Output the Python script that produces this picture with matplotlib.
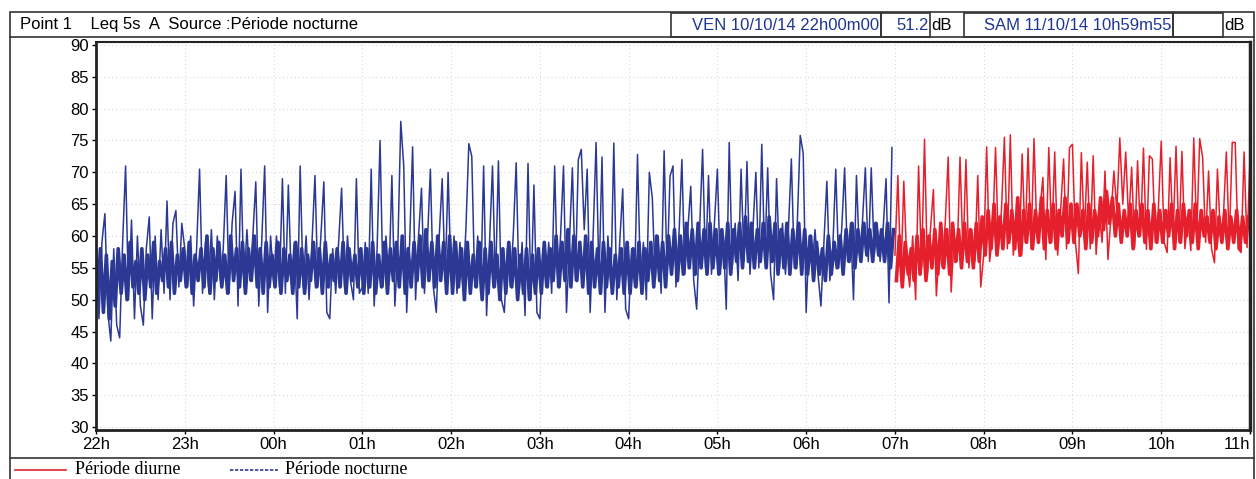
import matplotlib.pyplot as plt
import numpy as np
from matplotlib.lines import Line2D
from matplotlib.patches import Rectangle

W, H = 1256, 479

HOUR_LABELS = ["22h", "23h", "00h", "01h", "02h", "03h", "04h",
               "05h", "06h", "07h", "08h", "09h", "10h", "11h"]
STEP_MIN = 2  # each list holds one value every 2 minutes

# Leq 5s A, dB - peaks / dips of the trace (even minutes), night period 22h -> 07h
night_22h = [60, 47, 59, 63.5, 48, 43.5, 58, 46, 44, 59, 71, 50, 62.5, 47, 60,
             49, 46, 58, 63, 47, 60, 50, 61, 51, 65.5, 50, 62, 64, 52, 62]
night_23h = [58, 52, 60, 49, 58, 70.5, 51, 59, 52, 61, 50, 60, 53, 58, 69.5,
             51, 62, 67, 49, 70.5, 52, 61, 53, 60, 68.5, 49, 59, 71, 48, 60]
night_00h = [53, 60, 52, 69, 51, 68, 53, 59, 47, 71, 52, 60, 50, 59, 69.5,
             52, 60, 68.5, 48, 47, 58, 51, 59, 67.5, 52, 60, 53, 50, 69, 51]
night_01h = [52, 59, 51, 70.5, 49, 58, 75, 52, 60, 53, 69.5, 49, 58, 78, 71,
             48, 59, 74, 50, 60, 67.5, 51, 59, 70.5, 52, 48, 60, 69, 53, 70]
night_02h = [53, 60, 51, 59, 52, 61, 74.5, 72.5, 52, 60, 51, 71, 47.5, 59, 71,
             52, 71.8, 50, 48, 58, 52, 60, 71.5, 51, 59, 47.5, 71.4, 50, 68, 48]
night_03h = [47, 58, 52, 59, 51, 71, 52, 60, 71, 48, 59, 70.7, 53, 72, 73.6,
             61, 70.5, 48, 60, 74.7, 53, 72.4, 48, 60, 52, 74.6, 50, 59, 67.4, 48.5]
night_04h = [47, 58, 52, 72.8, 53, 59, 50, 70, 66, 53, 60, 51, 73.4, 54, 69.4,
             71, 52, 60, 72, 54, 61, 67.8, 53, 48.5, 61, 73.6, 55, 69.5, 54, 62]
night_05h = [70.5, 54, 60, 48.5, 74.7, 55, 62, 53, 70.5, 56, 71.7, 54, 61, 70, 55,
             74.4, 56, 70.7, 54, 50, 69, 55, 62, 54, 61, 72.1, 55, 62, 75.8, 73]
night_06h = [48, 60, 55, 61, 54, 49, 59, 68.6, 53, 58, 70.5, 55, 61, 70.7, 56,
             62, 50, 69.5, 57, 62, 70.7, 56, 70.7, 57, 62, 56, 61, 69, 49.5, 73.9]

# day period 07h -> 11h
day_07h = [57, 69.5, 53, 68.6, 56, 52, 60, 50, 71, 55, 75.2, 54, 61, 67.3, 50.6,
           58, 55, 62, 72.4, 51.2, 60, 56, 72.4, 57, 72, 55, 61, 56, 69.5, 52]
day_08h = [57, 74, 56, 60, 73.9, 58, 64, 75.5, 58, 75.9, 57, 62, 56.8, 72.9, 59,
           73.8, 58, 75.3, 60, 64, 69.2, 56.3, 73.9, 59, 73.2, 57, 64, 72.1, 58, 73.9]
day_09h = [74.4, 59, 54.1, 73.1, 60, 71.6, 58, 72.6, 57.1, 64, 59, 70.2, 56.3, 63, 70.2,
           64, 75.4, 65, 73.2, 62, 70.8, 58.2, 71.8, 60, 73.8, 57.9, 72.6, 72.1, 59, 64]
day_10h = [74.9, 59, 57.4, 72.3, 60, 74.1, 59, 73.3, 58, 63, 57.7, 75.4, 60, 75.3, 72.3,
           59, 70.2, 58, 55.8, 70.5, 60, 63, 73.2, 59, 74.7, 74.7, 58, 57.4, 73.2, 58.2,
           72.3]

# dense body of the trace (odd minutes)
body_22h = [50, 58, 48, 57, 47, 56, 49, 58, 51, 57, 50, 59, 52, 56, 51,
            58, 50, 57, 52, 59, 51, 56, 53, 58, 52, 59, 51, 57, 53, 58]
body_23h = [52, 59, 51, 57, 53, 58, 52, 60, 51, 58, 53, 59, 52, 57, 51,
            60, 53, 58, 52, 59, 51, 58, 53, 60, 52, 58, 51, 59, 52, 57]
body_00h = [52, 59, 51, 58, 53, 57, 51, 59, 52, 58, 51, 57, 53, 59, 52,
            58, 51, 59, 52, 57, 53, 58, 52, 59, 51, 58, 53, 57, 52, 58]
body_01h = [51, 58, 52, 59, 51, 57, 52, 59, 51, 58, 53, 59, 52, 60, 51,
            58, 52, 59, 53, 60, 52, 61, 53, 59, 52, 60, 53, 59, 51, 60]
body_02h = [51, 59, 52, 58, 50, 59, 51, 57, 52, 59, 50, 58, 51, 59, 52,
            57, 50, 58, 51, 59, 52, 58, 50, 57, 51, 58, 50, 57, 51, 58]
body_03h = [51, 59, 52, 58, 53, 60, 52, 59, 53, 61, 52, 60, 53, 59, 52,
            60, 51, 59, 52, 58, 51, 59, 52, 58, 51, 57, 52, 58, 51, 59]
body_04h = [51, 58, 52, 59, 51, 58, 53, 59, 52, 60, 53, 59, 52, 60, 54,
            61, 53, 60, 54, 62, 55, 61, 54, 62, 55, 61, 54, 62, 55, 61]
body_05h = [54, 61, 55, 62, 54, 61, 56, 62, 55, 63, 56, 62, 55, 61, 56,
            62, 55, 63, 56, 62, 54, 61, 55, 62, 54, 61, 55, 62, 54, 61]
body_06h = [54, 60, 53, 59, 54, 58, 53, 60, 54, 59, 55, 60, 54, 61, 56,
            62, 55, 61, 56, 62, 57, 61, 56, 62, 57, 61, 56, 62, 55, 61]
body_07h = [53, 60, 52, 59, 54, 58, 53, 60, 54, 61, 53, 60, 55, 61, 54,
            62, 55, 61, 54, 62, 56, 61, 55, 62, 56, 61, 55, 62, 56, 63]
body_08h = [57, 64, 58, 65, 57, 63, 58, 65, 59, 64, 58, 66, 57, 64, 59,
            65, 58, 64, 59, 66, 58, 64, 59, 65, 58, 64, 60, 66, 59, 65]
body_09h = [59, 65, 60, 64, 58, 65, 59, 64, 60, 66, 61, 67, 62, 66, 60,
            65, 59, 64, 60, 65, 58, 64, 60, 65, 59, 64, 58, 65, 59, 64]
body_10h = [59, 64, 60, 65, 58, 64, 59, 65, 60, 64, 59, 65, 58, 64, 60,
            63, 59, 64, 58, 63, 59, 64, 58, 63, 59, 64, 58, 63, 59, 63]

night_db = (night_22h + night_23h + night_00h + night_01h + night_02h
            + night_03h + night_04h + night_05h + night_06h)
day_db = day_07h + day_08h + day_09h + day_10h
night_body = (body_22h + body_23h + body_00h + body_01h + body_02h
              + body_03h + body_04h + body_05h + body_06h)
day_body = body_07h + body_08h + body_09h + body_10h

night_t = np.arange(len(night_db)) * STEP_MIN
day_t = len(night_db) * STEP_MIN + np.arange(len(day_db)) * STEP_MIN
night_body_t = 1 + np.arange(len(night_body)) * STEP_MIN
day_body_t = 1 + len(night_body) * STEP_MIN + np.arange(len(day_body)) * STEP_MIN

BLUE = "#2b3994"
RED = "#e5202c"
TEXT_BLUE = "#1f3590"

plt.rcParams["font.family"] = ["Liberation Sans", "DejaVu Sans"]


def fx(x):
    return x / W


def fy(y):
    return 1 - y / H


fig = plt.figure(figsize=(W / 100, H / 100), dpi=100)

ax = fig.add_axes([fx(96), fy(430), fx(1250) - fx(96), fy(42) - fy(430)])
ax.plot(night_body_t, night_body, color=BLUE, lw=2.6)
ax.plot(day_body_t, day_body, color=RED, lw=2.6)
ax.plot(night_t, night_db, color=BLUE, lw=1.1)
ax.plot(day_t, day_db, color=RED, lw=1.1)

ax.set_xlim(0, 780)
ax.set_ylim(29.53, 90.47)
ax.set_yticks(np.arange(30, 91, 5))
ax.set_xticks(np.arange(0, 781, 60))
ax.set_xticklabels(HOUR_LABELS)
ax.get_xticklabels()[-1].set_ha("right")
ax.tick_params(axis="both", labelsize=12, length=3, width=1, pad=2, colors="black")
ax.grid(True, color="#c9d3df", lw=0.7, ls=(0, (1, 3)))
ax.set_axisbelow(True)
for side, lw in [("left", 2), ("bottom", 2), ("right", 2.5), ("top", 1.5)]:
    ax.spines[side].set_linewidth(lw)
    ax.spines[side].set_color("#222222")

# frame of the report
fig.add_artist(Rectangle((fx(10), -0.05), fx(1254) - fx(10), fy(12) + 0.05, fill=False,
                         lw=1.2, ec="#333333", transform=fig.transFigure))
fig.add_artist(Line2D([fx(10), fx(1254)], [fy(37), fy(37)], lw=1.2, color="#333333",
                      transform=fig.transFigure))
fig.add_artist(Line2D([fx(10), fx(1254)], [fy(458), fy(458)], lw=1.2, color="#333333",
                      transform=fig.transFigure))

# header
fig.text(fx(20), fy(25), "Point 1    Leq 5s  A  Source :Période nocturne",
         fontsize=12, va="center", ha="left")
boxes = [(671, 881), (881, 930), (964, 1173), (1173, 1223)]
for x0, x1 in boxes:
    fig.add_artist(Rectangle((fx(x0), fy(37)), fx(x1) - fx(x0), fy(13) - fy(37),
                             fill=False, lw=1.2, ec="#333333", transform=fig.transFigure))
fig.text(fx(879), fy(25), "VEN 10/10/14 22h00m00", fontsize=12, color=TEXT_BLUE,
         va="center", ha="right")
fig.text(fx(929), fy(25), "51.2", fontsize=12, color=TEXT_BLUE, va="center", ha="right")
fig.text(fx(931), fy(25), "dB", fontsize=12, va="center", ha="left")
fig.text(fx(1172), fy(25), "SAM 11/10/14 10h59m55", fontsize=12, color=TEXT_BLUE,
         va="center", ha="right")
fig.text(fx(1224), fy(25), "dB", fontsize=12, va="center", ha="left")

# legend
fig.add_artist(Line2D([fx(15), fx(66)], [fy(470), fy(470)], lw=1.2, color=RED,
                      transform=fig.transFigure))
fig.text(fx(75), fy(470), "Période diurne", fontsize=13, va="center", ha="left",
         family=["Liberation Serif", "DejaVu Serif"])
fig.add_artist(Line2D([fx(230), fx(278)], [fy(470), fy(470)], lw=1.2, color=BLUE,
                      ls=(0, (2, 1)), transform=fig.transFigure))
fig.text(fx(285), fy(470), "Période nocturne", fontsize=13, va="center", ha="left",
         family=["Liberation Serif", "DejaVu Serif"])

fig.savefig("out.png", dpi=100)
